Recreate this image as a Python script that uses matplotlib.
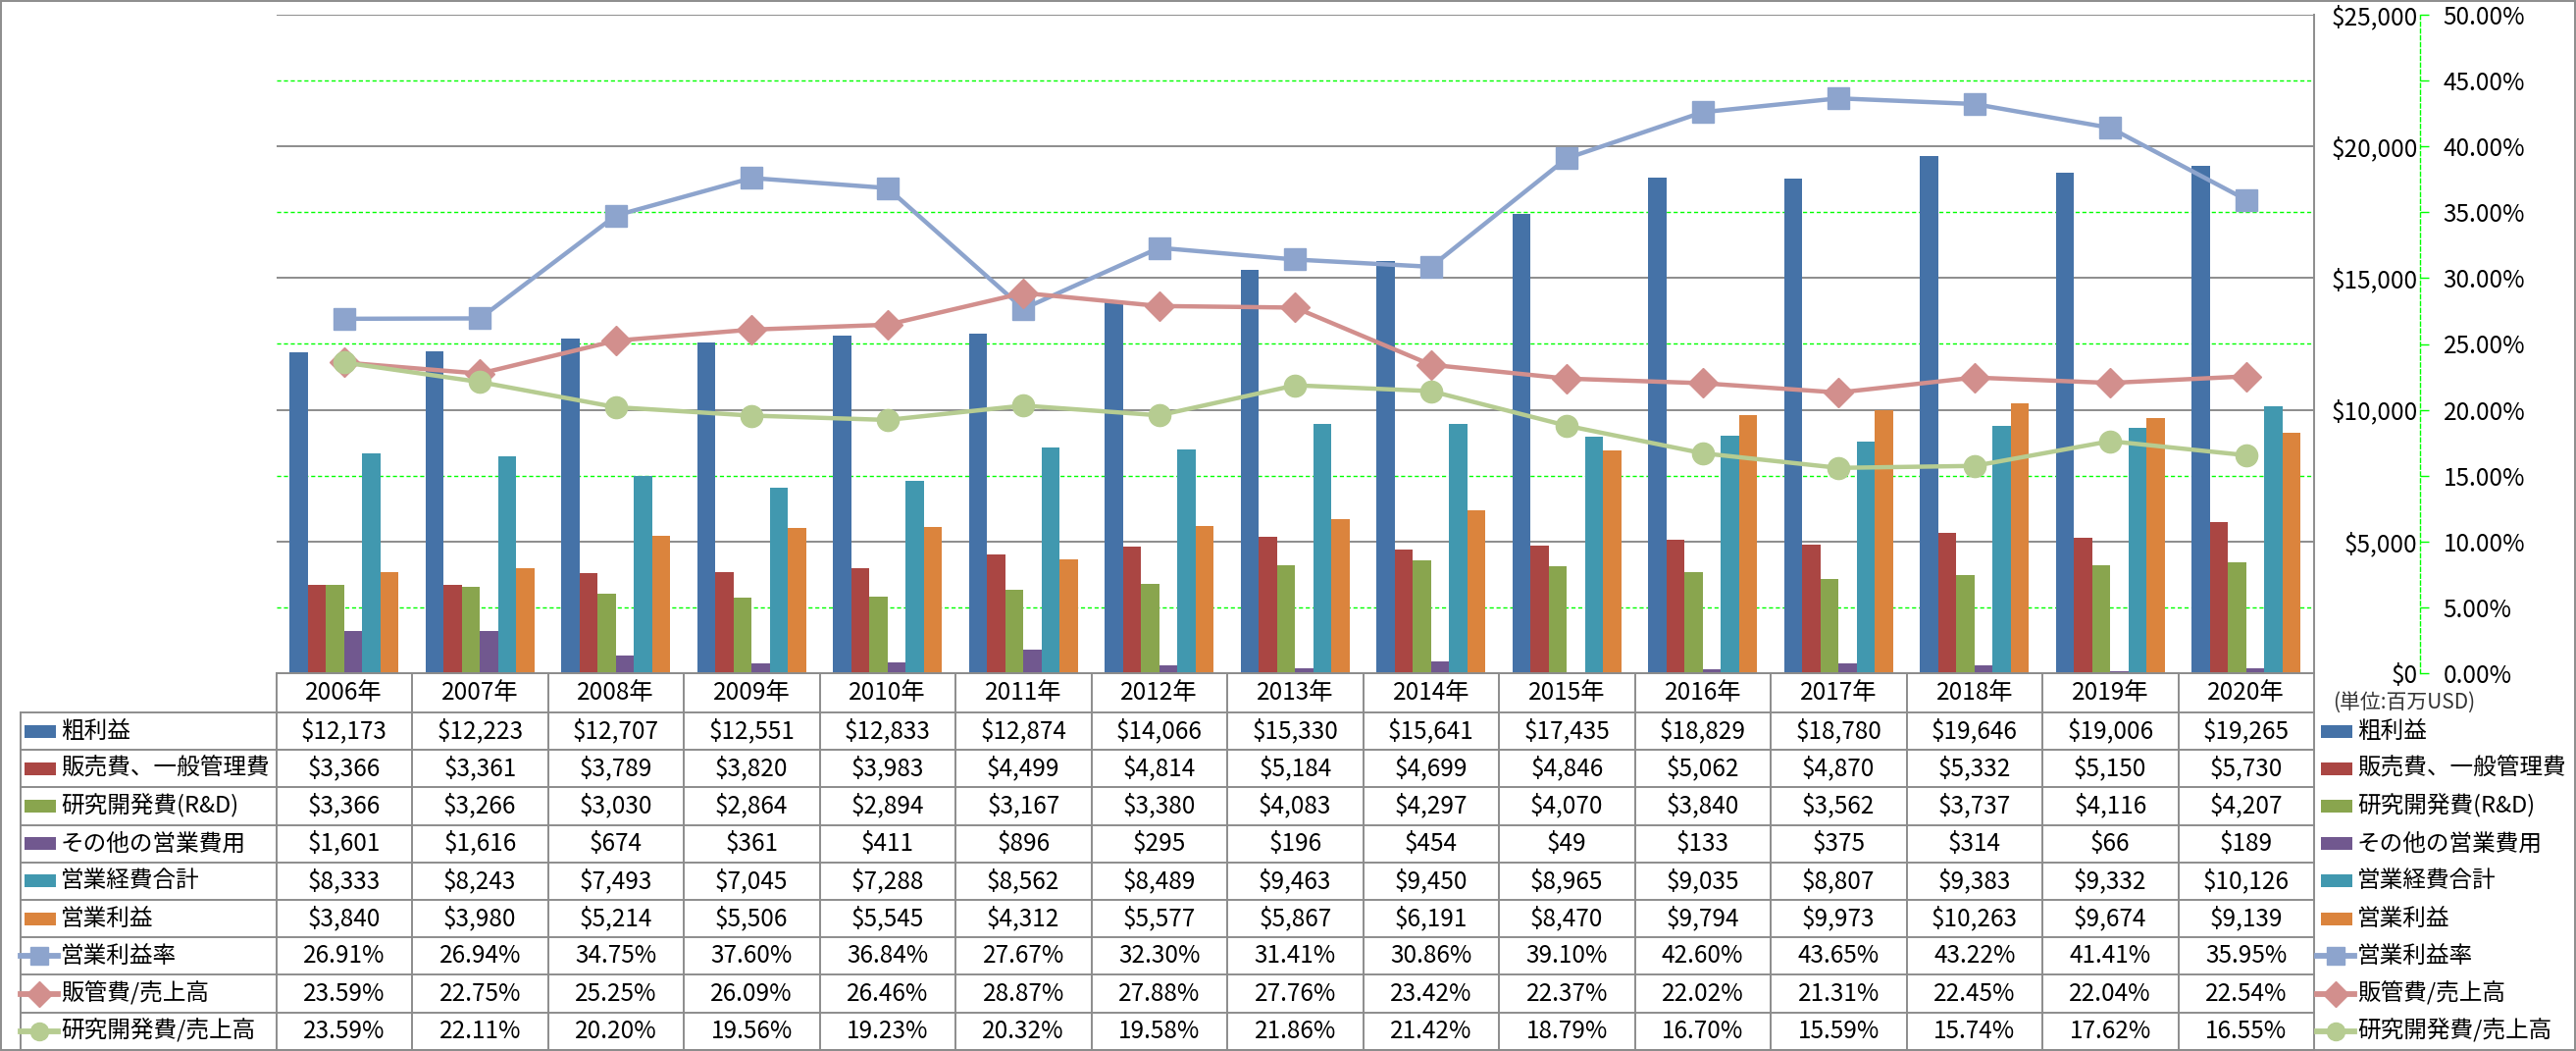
"""Gross profit / operating cost bars with margin lines and a data table underneath."""
import numpy as np
import matplotlib

matplotlib.use("Agg")
import matplotlib.pyplot as plt
from matplotlib.patches import Rectangle
from matplotlib.lines import Line2D
from matplotlib.ticker import MultipleLocator, FuncFormatter

plt.rcParams["font.family"] = ["Noto Sans CJK JP", "DejaVu Sans"]

YEARS = ["2006年", "2007年", "2008年", "2009年", "2010年", "2011年", "2012年", "2013年",
         "2014年", "2015年", "2016年", "2017年", "2018年", "2019年", "2020年"]

GROSS = [12173, 12223, 12707, 12551, 12833, 12874, 14066, 15330, 15641, 17435,
         18829, 18780, 19646, 19006, 19265]
SGA = [3366, 3361, 3789, 3820, 3983, 4499, 4814, 5184, 4699, 4846, 5062, 4870, 5332, 5150, 5730]
RND = [3366, 3266, 3030, 2864, 2894, 3167, 3380, 4083, 4297, 4070, 3840, 3562, 3737, 4116, 4207]
OTHER = [1601, 1616, 674, 361, 411, 896, 295, 196, 454, 49, 133, 375, 314, 66, 189]
OPEX = [8333, 8243, 7493, 7045, 7288, 8562, 8489, 9463, 9450, 8965, 9035, 8807, 9383, 9332, 10126]
OPINC = [3840, 3980, 5214, 5506, 5545, 4312, 5577, 5867, 6191, 8470, 9794, 9973, 10263, 9674, 9139]

OPM = [26.91, 26.94, 34.75, 37.60, 36.84, 27.67, 32.30, 31.41, 30.86, 39.10, 42.60, 43.65,
       43.22, 41.41, 35.95]
SGA_R = [23.59, 22.75, 25.25, 26.09, 26.46, 28.87, 27.88, 27.76, 23.42, 22.37, 22.02, 21.31,
         22.45, 22.04, 22.54]
RND_R = [23.59, 22.11, 20.20, 19.56, 19.23, 20.32, 19.58, 21.86, 21.42, 18.79, 16.70, 15.59,
         15.74, 17.62, 16.55]

BARS = [("粗利益", GROSS, "#4572A7"),
        ("販売費、一般管理費", SGA, "#AA4643"),
        ("研究開発費(R&D)", RND, "#89A54E"),
        ("その他の営業費用", OTHER, "#71588F"),
        ("営業経費合計", OPEX, "#4198AF"),
        ("営業利益", OPINC, "#DB843D")]
LINES = [("営業利益率", OPM, "#8DA4CD", "s", 16),
         ("販管費/売上高", SGA_R, "#D28F8D", "D", 15),
         ("研究開発費/売上高", RND_R, "#B6CC91", "o", 16)]

GRID, GREEN = "#8C8C8C", "#00FF00"
W, H, DPI = 2626, 1071, 100
PL, PR, PT, PB = 281.5, 2359, 15, 686      # plot area in pixels
TL = 21                                      # table left edge
HEAD_B = 726                                 # bottom of the year header row
ROW_H = 38.2
FS = 17.5     # numbers
FJ = 17       # japanese row labels


def main():
    fig = plt.figure(figsize=(W / DPI, H / DPI), dpi=DPI)

    # overlay in pixel units for the data table and the frame
    ov = fig.add_axes([0, 0, 1, 1])
    ov.set_xlim(0, W)
    ov.set_ylim(H, 0)
    ov.axis("off")

    ax = fig.add_axes([PL / W, 1 - PB / H, (PR - PL) / W, (PB - PT) / H])
    ax2 = ax.twinx()
    n = len(YEARS)
    x = np.arange(n)
    bw = 1 / 7.5
    for i, (label, vals, col) in enumerate(BARS):
        ax.bar(x + (i - 2.5) * bw, vals, bw, color=col, linewidth=0, zorder=2)
    ax.set_xlim(-0.5, n - 0.5)
    ax.set_ylim(0, 25000)
    ax.set_xticks([])
    ax.yaxis.set_major_locator(MultipleLocator(5000))
    ax.yaxis.set_minor_locator(MultipleLocator(2500))
    ax.yaxis.set_major_formatter(FuncFormatter(lambda v, _: f"${v:,.0f}"))
    ax.yaxis.tick_right()
    ax.tick_params(axis="y", which="both", length=0, pad=76, labelsize=FS,
                   labelleft=False, labelright=True)
    ax.set_axisbelow(True)
    ax.grid(axis="y", which="major", color=GRID, lw=1.4)
    ax.grid(axis="y", which="minor", color=GREEN, lw=1.0, ls=(0, (3, 2)))
    for side in ("top", "left"):
        ax.spines[side].set_visible(False)
    for side in ("right", "bottom"):
        ax.spines[side].set_color(GRID)
        ax.spines[side].set_linewidth(1.4)
    plt.setp(ax.get_yticklabels(), ha="right")

    for label, vals, col, mk, ms in LINES:
        ax2.plot(x, vals, color=col, lw=3.2, marker=mk, ms=ms,
                 markerfacecolor=col, markeredgecolor=col, zorder=3)
    ax2.set_ylim(0, 50)
    ax2.yaxis.set_major_locator(MultipleLocator(5))
    ax2.yaxis.set_major_formatter(FuncFormatter(lambda v, _: f"{v:.2f}%"))
    for side in ("top", "left", "bottom"):
        ax2.spines[side].set_visible(False)
    ax2.spines["right"].set_position(("outward", 77.8))
    ax2.spines["right"].set_color(GREEN)
    ax2.spines["right"].set_linestyle((0, (3, 2)))
    ax2.spines["right"].set_linewidth(1.0)
    ax2.tick_params(axis="y", direction="out", length=6.5, width=1.0, color=GREEN,
                    pad=10.5, labelsize=FS)

    # ---- data table ----
    colw = (PR - PL) / n
    edges = PL + colw * np.arange(n + 1)
    rows = [(lab, [f"${v:,}" for v in vals], ("bar", col, None))
            for lab, vals, col in BARS]
    rows += [(lab, [f"{v:.2f}%" for v in vals], ("line", col, mk))
             for lab, vals, col, mk, ms in LINES]
    bottom = HEAD_B + ROW_H * len(rows)
    lk = dict(color=GRID, lw=1.4)
    ov.plot([PL, PR], [PB, PB], **lk)
    ov.plot([TL, PR], [HEAD_B, HEAD_B], **lk)
    for r in range(len(rows)):
        yb = HEAD_B + ROW_H * (r + 1)
        ov.plot([TL, PR], [yb, yb], **lk)
    ov.plot([TL, TL], [HEAD_B, bottom], **lk)
    for e in edges:
        ov.plot([e, e], [PB, bottom], **lk)
    for j, yr in enumerate(YEARS):
        ov.text(edges[j] + colw / 2, (PB + HEAD_B) / 2, yr, ha="center", va="center",
                fontsize=FS)

    def key(xl, xr, yc, kind, col, mk):
        if kind == "bar":
            ov.add_patch(Rectangle((xl + 4, yc - 6.5), xr - xl - 4, 13, color=col, lw=0))
        else:
            ov.add_line(Line2D([xl, xr + 2], [yc, yc], color=col, lw=4.2))
            ov.add_line(Line2D([(xl + xr + 2) / 2], [yc], marker=mk, ms=13,
                               color=col, markeredgecolor=col))

    for r, (lab, cells, (kind, col, mk)) in enumerate(rows):
        yc = HEAD_B + ROW_H * (r + 0.5)
        key(TL, 57, yc, kind, col, mk)
        ov.text(62, yc, lab, ha="left", va="center", fontsize=FJ)
        for j, s in enumerate(cells):
            ov.text(edges[j] + colw / 2, yc, s, ha="center", va="center", fontsize=FS)
        key(2362, 2398, yc, kind, col, mk)
        ov.text(2403, yc, lab, ha="left", va="center", fontsize=FJ)

    ov.text(2378, 716, "(単位:百万USD)", ha="left", va="center", fontsize=15,
            color="#333333")
    ov.add_patch(Rectangle((1, 1), W - 2.5, H - 2.5, fill=False, edgecolor=GRID, lw=1.4))

    fig.savefig("out.png", dpi=DPI)


if __name__ == "__main__":
    main()
